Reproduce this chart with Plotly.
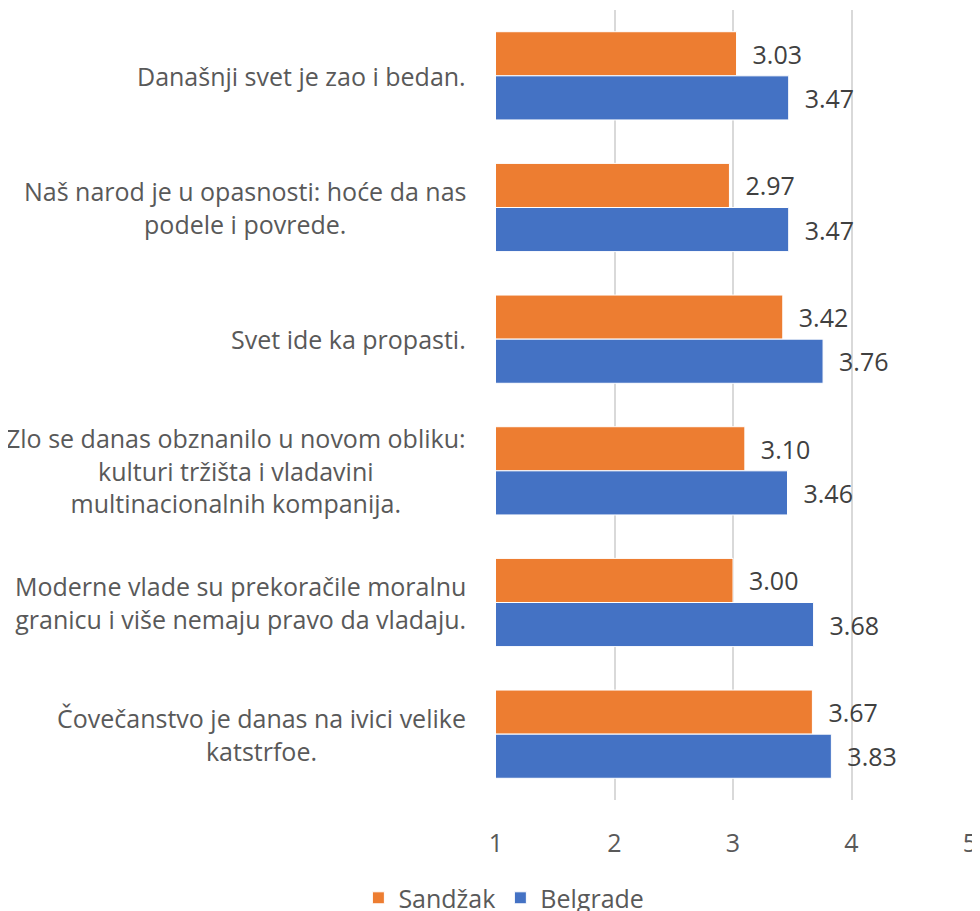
import plotly.graph_objects as go

categories = [
    "Današnji svet je zao i bedan.",
    "Naš narod je u opasnosti: hoće da nas<br>podele i povrede.",
    "Svet ide ka propasti.",
    "Zlo se danas obznanilo u novom obliku:<br>kulturi tržišta i vladavini<br>multinacionalnih kompanija.",
    "Moderne vlade su prekoračile moralnu<br>granicu i više nemaju pravo da vladaju.",
    "Čovečanstvo je danas na ivici velike<br>katstrfoe.",
]
sandzak = [3.03, 2.97, 3.42, 3.10, 3.00, 3.67]
belgrade = [3.47, 3.47, 3.76, 3.46, 3.68, 3.83]
x_ticks = [1, 2, 3, 4, 5]

FONT = "Open Sans"
GREY = "#595959"
DARK = "#404040"
FS = 25

fig = go.Figure()
fig.add_trace(go.Bar(
    name="Sandžak", y=categories, x=sandzak, base=0, orientation="h",
    marker=dict(color="#ED7D31", line=dict(color="white", width=1)),
    text=[f"{v:.2f}" for v in sandzak], textposition="outside",
    texttemplate="  %{text}",
    textfont=dict(family=FONT, size=FS, color=DARK), cliponaxis=False,
))
fig.add_trace(go.Bar(
    name="Belgrade", y=categories, x=belgrade, base=0, orientation="h",
    marker=dict(color="#4472C4", line=dict(color="white", width=1)),
    text=[f"{v:.2f}" for v in belgrade], textposition="outside",
    texttemplate="  %{text}",
    textfont=dict(family=FONT, size=FS, color=DARK), cliponaxis=False,
))

for c in categories:
    fig.add_annotation(
        x=0, xref="paper", y=c, yref="y", xanchor="right", yanchor="middle",
        xshift=-28, text=c, showarrow=False, align="center",
        font=dict(family=FONT, size=FS, color=GREY),
    )

fig.update_layout(
    width=980, height=911,
    margin=dict(l=488, r=18, t=2, b=119),
    barmode="group", bargap=0.33, bargroupgap=0,
    plot_bgcolor="white", paper_bgcolor="white",
    font=dict(family=FONT, size=FS, color=GREY),
    showlegend=True,
    legend=dict(orientation="h", xref="container", yref="container",
                x=0.506, xanchor="center", y=0.023, yanchor="middle",
                font=dict(family=FONT, size=FS, color=GREY), traceorder="normal"),
)
fig.update_xaxes(range=[1, 5], tickvals=x_ticks, showgrid=True, gridcolor="#D9D9D9",
                 gridwidth=1.5, zeroline=False, showline=False, ticks="",
                 ticklabelstandoff=26, tickfont=dict(family=FONT, size=FS, color=GREY))
fig.update_yaxes(autorange="reversed", showticklabels=False, showgrid=False, ticks="")

fig.write_html("out.html")
